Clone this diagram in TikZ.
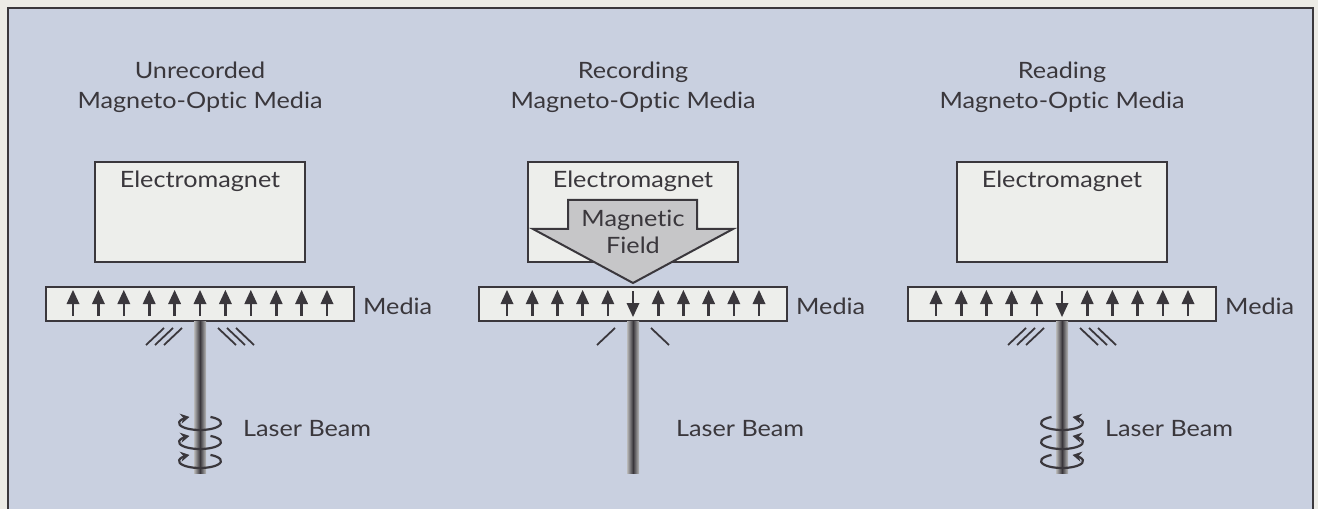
\documentclass[tikz,border=0pt]{standalone}
\usepackage{fontspec}
\setmainfont{Lato}[FakeStretch=1.12, RawFeature=-liga]
\usetikzlibrary{arrows.meta,positioning}
\definecolor{mopage}{RGB}{236,235,230}
\definecolor{mobg}{RGB}{201,208,224}
\definecolor{mofill}{RGB}{237,238,235}
\definecolor{moink}{RGB}{58,55,60}
\definecolor{mofield}{RGB}{198,198,200}
\begin{document}
\begin{tikzpicture}[x=1bp,y=-1bp,
  mobox/.style={draw=moink, fill=mofill, line width=2bp, inner sep=0pt},
  motext/.style={text=moink, font=\fontsize{22.5bp}{30bp}\selectfont, inner sep=0pt},
  modomain/.pic={
    \draw[moink, line width=2.6bp] (0,13) -- (0,-2);
    \fill[moink] (-6.5,1) -- (0,-13) -- (6.5,1) -- cycle;
  },
  mohatch/.style={draw=moink, line width=1.8bp},
  mospin/.style={draw=moink, line width=2.2bp, -{Stealth[length=9bp,width=10bp]}}]
  % page and frame
  \fill[mopage] (0,0) rectangle (1318,509);
  \useasboundingbox (0,0) rectangle (1318,509);
  \filldraw[fill=mobg, draw=moink, line width=1.5bp] (8,8) rectangle (1313,530);
  % the three panels
  \foreach \cx/\nm/\word in {200/a/Unrecorded, 633/b/Recording, 1062/c/Reading} {
    % title
    \node[motext, anchor=base] (title\nm) at (\cx,79) {\word};
    \node[motext, anchor=base] (sub\nm) at (\cx,109) {Magneto-Optic Media};
    % electromagnet
    \node[mobox, minimum width=210bp, minimum height=100bp] (em\nm) at (\cx,212) {};
    \node[motext, anchor=base] (emtext\nm) at (\cx,188) {Electromagnet};
    % media strip
    \node[mobox, minimum width=308bp, minimum height=34bp] (media\nm) at (\cx,304) {};
    \node[motext, anchor=base west] (medtext\nm) at (\cx+163,314) {Media};
    % laser beam
    \shade[left color=gray!55, right color=gray!55, middle color=moink]
      (\cx-6,321) rectangle (\cx+6,473);
    \node[motext, anchor=base west] (laser\nm) at (\cx+43,436) {Laser Beam};
  }
  % domains of the unrecorded media
  \foreach \i in {0,...,10} {
    \pic at (200+25.4*\i-127,303) {modomain};
  }
  % domains after recording, one reversed
  \foreach \cx in {633,1062} {
    \foreach \i in {0,1,2,3,4,6,7,8,9,10} {
      \pic at (\cx+25.2*\i-126,303) {modomain};
    }
    \pic[rotate=180] at (\cx,304) {modomain};
  }
  % reflected light
  \foreach \cx in {200,1062} {
    \foreach \k in {0,1,2} {
      \draw[mohatch] (\cx-36-9*\k,345) -- (\cx-18-9*\k,328);
      \draw[mohatch] (\cx+18+9*\k,328) -- (\cx+36+9*\k,345);
    }
  }
  \draw[mohatch] (597,345) -- (615,328);
  \draw[mohatch] (651,328) -- (669,345);
  % polarisation turns
  \foreach \yy in {423,442,461} {
    \draw[mospin] (200,\yy) ++(-60:21 and 7)
      arc[start angle=-60, end angle=240, x radius=21, y radius=7];
    \draw[mospin] (1062,\yy) ++(240:21 and 7)
      arc[start angle=240, end angle=-60, x radius=21, y radius=7];
  }
  % magnetic field
  \filldraw[fill=mofield, draw=moink, line width=2bp]
    (568,200) -- (697,200) -- (697,229) -- (733,229) -- (633,283)
    -- (533,229) -- (568,229) -- cycle;
  \node[motext, anchor=base] (fieldtop) at (633,227) {Magnetic};
  \node[motext, anchor=base] (fieldbot) at (633,254) {Field};
\end{tikzpicture}
\end{document}
